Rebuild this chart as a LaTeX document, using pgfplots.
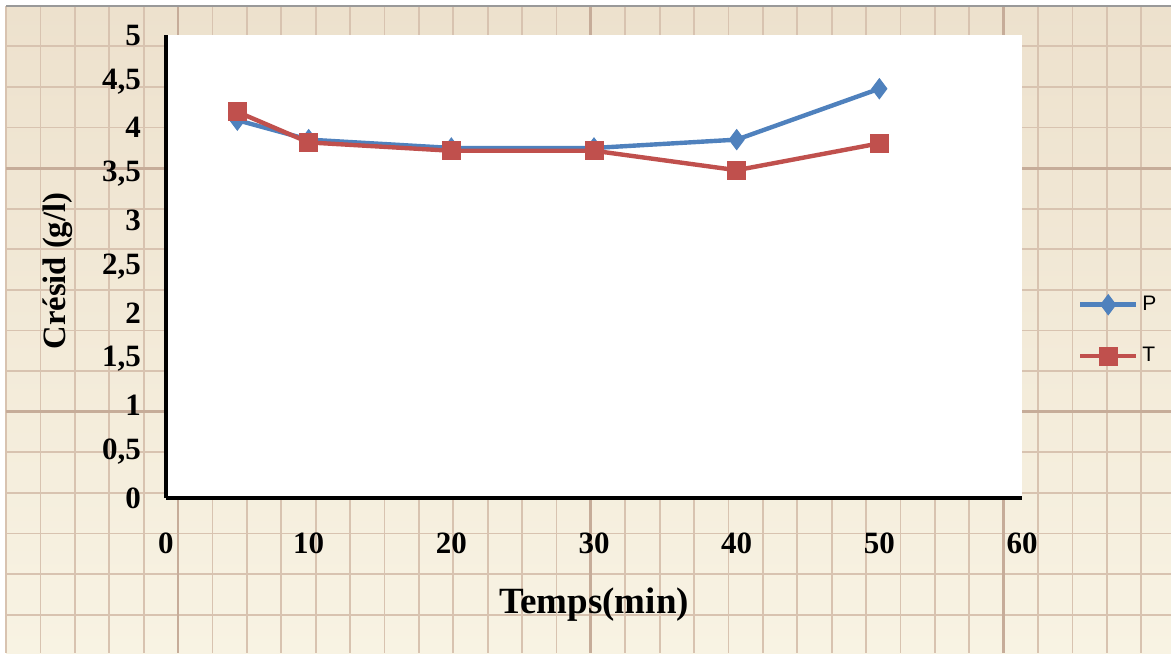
\documentclass[border=0pt]{standalone}
\usepackage{pgfplots}
\pgfplotsset{compat=1.18}
\usepackage{fontspec}
\setmainfont{Liberation Serif}
\newfontfamily\legfont{Liberation Sans}
\definecolor{pblue}{HTML}{4F81BD}
\definecolor{tred}{HTML}{C0504D}
\definecolor{papertop}{HTML}{EDE1CD}
\definecolor{paperbot}{HTML}{F8F3E3}
\definecolor{minorline}{HTML}{D8C3B0}
\definecolor{majorline}{HTML}{C6AC99}
\begin{document}
\begin{tikzpicture}
\begin{scope}[x=0.5pt,y=-0.5pt]
  \useasboundingbox (0,0) rectangle (1171,653);
  \fill[white] (0,0) rectangle (1171,653);
  \shade[top color=papertop,bottom color=paperbot] (6,6) rectangle (1171,653);
  \foreach \k in {0,...,33} {
    \draw[minorline,line width=0.9pt] ({6+34.4*\k},6) -- ({6+34.4*\k},653);
  }
  \foreach \k in {-6,...,10} {
    \draw[minorline,line width=0.9pt] (6,{411.7-40.6*\k}) -- (1171,{411.7-40.6*\k});
  }
  \foreach \k in {5,17,29} {
    \draw[majorline,line width=1.4pt] ({6+34.4*\k},6) -- ({6+34.4*\k},653);
  }
  \foreach \k in {0,6} {
    \draw[majorline,line width=1.4pt] (6,{411.7-40.6*\k}) -- (1171,{411.7-40.6*\k});
  }
  \draw[gray!80,line width=1pt] (6,6) -- (1171,6);
\end{scope}
\begin{axis}[
  at={(83pt,-249pt)}, anchor=south west,
  scale only axis, width=428pt, height=231.5pt,
  xmin=0, xmax=60, ymin=0, ymax=5,
  xtick={0,10,...,60}, ytick={0,0.5,...,5},
  axis x line*=bottom, axis y line*=left,
  axis line style={line width=2.4pt, black, -},
  axis background/.style={fill=white},
  major tick length=0pt,
  /pgf/number format/.cd, use comma, fixed, assume math mode=true, /pgfplots/.cd,
  ticklabel style={font=\bfseries\fontsize{15.5}{17}\selectfont},
  xticklabel style={yshift=-14pt},
  yticklabel style={xshift=-9pt},
  xlabel={Temps(min)},
  ylabel={Crésid (g/l)},
  xlabel style={at={(axis description cs:0.5,-0.231)}, anchor=center, font=\bfseries\fontsize{18.5}{20}\selectfont},
  ylabel style={at={(axis description cs:-0.126,0.49)}, anchor=center, font=\bfseries\fontsize{16.3}{18}\selectfont},
  legend style={at={(rel axis cs:1.065,0.362)}, anchor=west, draw=none, fill=none,
    font=\legfont\fontsize{10.5}{12}\selectfont, row sep=13pt, inner sep=0pt,
    /tikz/every even column/.append style={column sep=2pt}},
  legend cell align=left,
  legend image code/.code={\draw[#1, mark repeat=2, mark phase=2] plot coordinates {(0pt,0pt)(14pt,0pt)(28pt,0pt)};},
]
\addplot[color=pblue, line width=2.2pt, mark=diamond*, mark size=5pt, mark options={solid, fill=pblue, line width=0.5pt}]
  coordinates {(5,4.08) (10,3.87) (20,3.78) (30,3.78) (40,3.87) (50,4.42)};
\addlegendentry{P}
\addplot[color=tred, line width=2.2pt, mark=square*, mark size=4.5pt, mark options={solid, fill=tred, line width=0.5pt}]
  coordinates {(5,4.17) (10,3.84) (20,3.75) (30,3.75) (40,3.54) (50,3.83)};
\addlegendentry{T}
\end{axis}
\end{tikzpicture}
\end{document}
